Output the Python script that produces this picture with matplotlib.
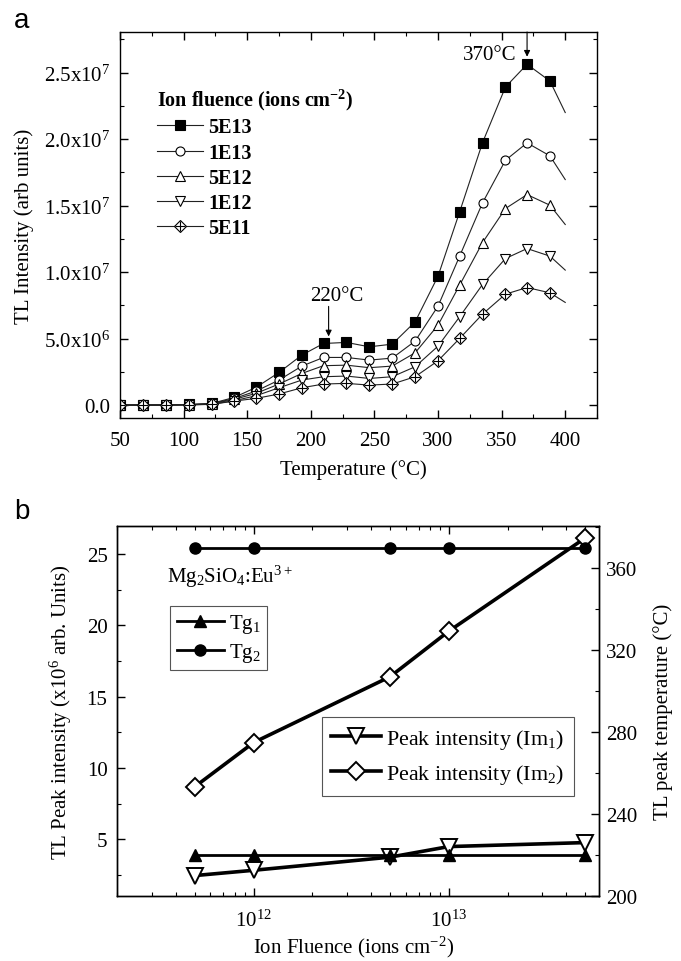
import matplotlib
matplotlib.use('Agg')
import matplotlib.pyplot as plt
from matplotlib.ticker import MultipleLocator, FuncFormatter, NullFormatter, LogLocator
from matplotlib.legend_handler import HandlerTuple

plt.rcParams['font.family'] = ['Liberation Serif', 'DejaVu Serif']
plt.rcParams['mathtext.fontset'] = 'custom'
plt.rcParams['mathtext.rm'] = 'Liberation Serif'
plt.rcParams['mathtext.it'] = 'Liberation Serif:italic'
plt.rcParams['mathtext.bf'] = 'Liberation Serif:bold'

# --- panel a: TL glow curves (intensity in units of 1e6) ---
temps = [50, 68, 86, 104, 122, 140, 157, 175, 193, 210, 228, 246, 264,
         282, 300, 317, 335, 353, 370, 388, 400]
tl_5e13 = [0, 0, 0, 0.05, 0.12, 0.58, 1.33, 2.45, 3.76, 4.63, 4.71, 4.38, 4.58,
           6.26, 9.69, 14.53, 19.74, 23.92, 25.63, 24.37, 22.0]
tl_1e13 = [0, 0, 0, 0.03, 0.10, 0.50, 1.05, 1.88, 2.93, 3.58, 3.58, 3.38, 3.53,
           4.81, 7.44, 11.2, 15.21, 18.41, 19.72, 18.74, 16.96]
tl_5e12 = [0, 0, 0, 0.02, 0.08, 0.43, 0.88, 1.58, 2.38, 2.96, 3.0, 2.81, 2.93,
           3.93, 6.01, 9.02, 12.22, 14.78, 15.83, 15.03, 13.58]
tl_1e12 = [0, 0, 0, 0.02, 0.06, 0.33, 0.70, 1.30, 1.88, 2.13, 2.18, 2.0, 2.13,
           2.88, 4.43, 6.64, 9.07, 11.02, 11.77, 11.2, 10.15]
tl_5e11 = [0, 0, 0, 0.01, 0.05, 0.30, 0.50, 0.83, 1.30, 1.58, 1.63, 1.50, 1.58,
           2.13, 3.33, 5.01, 6.84, 8.34, 8.84, 8.44, 7.72]
fluence_labels = ['5E13', '1E13', '5E12', '1E12', '5E11']

# --- panel b: peak intensity / temperature vs fluence ---
fluence = [5e11, 1e12, 5e12, 1e13, 5e13]
tg1 = [220, 220, 220, 220, 220]
tg2 = [370, 370, 370, 370, 370]
im1 = [2.47, 2.84, 3.76, 4.5, 4.78]
im2 = [8.7, 11.79, 16.4, 19.59, 26.12]

FS = 15

fig = plt.figure(figsize=(6.81, 9.62), dpi=100)

# ================= panel a =================
ax1 = fig.add_axes([0.1762, 0.5641, 0.7005, 0.4016])
scale = 1e6
mk = slice(0, len(temps) - 1)
lc = '#222222'
common = dict(color=lc, lw=0.8, markevery=mk, ms=6.5, mec='k', mew=0.8)
h1, = ax1.plot(temps, [v * scale for v in tl_5e13], marker='s', mfc='k', **common)
h2, = ax1.plot(temps, [v * scale for v in tl_1e13], marker='o', mfc='white', **common)
h3, = ax1.plot(temps, [v * scale for v in tl_5e12], marker='^', mfc='white', **common)
h4, = ax1.plot(temps, [v * scale for v in tl_1e12], marker='v', mfc='white', **common)
h5, = ax1.plot(temps, [v * scale for v in tl_5e11], marker='D', mfc='white',
               color=lc, lw=0.8, markevery=mk, ms=6, mec='k', mew=0.8)
h5b, = ax1.plot(temps[:-1], [v * scale for v in tl_5e11[:-1]], ls='none',
                marker='+', ms=6.5, mec='k', mew=0.8)

ax1.set_xlim(50, 425)
ax1.set_ylim(-1.0e6, 2.806e7)
ax1.xaxis.set_major_locator(MultipleLocator(50))
ax1.xaxis.set_minor_locator(MultipleLocator(25))
ax1.yaxis.set_major_locator(MultipleLocator(5e6))
ax1.yaxis.set_minor_locator(MultipleLocator(2.5e6))


def sci_fmt(v, pos):
    if v == 0:
        return '0.0'
    e = 6 if abs(v) < 1e7 else 7
    return '%.1fx10$^{%d}$' % (v / 10 ** e, e)


ax1.yaxis.set_major_formatter(FuncFormatter(sci_fmt))
ax1.tick_params(which='both', direction='in', top=True, right=True, labelsize=FS)
ax1.tick_params(which='major', length=6, width=1, pad=7)
ax1.tick_params(axis='x', which='major', pad=9)
ax1.tick_params(which='minor', length=3, width=0.8)
for s in ax1.spines.values():
    s.set_linewidth(1.0)

ax1.set_xlabel('Temperature (°C)', fontsize=FS)
ax1.set_ylabel('TL Intensity (arb units)', fontsize=FS)
ax1.xaxis.set_label_coords(0.49, -0.105)
ax1.yaxis.set_label_coords(-0.18, 0.5)

leg1 = ax1.legend([h1, h2, h3, h4, (h5, h5b)], fluence_labels,
                  handler_map={tuple: HandlerTuple(ndivide=1)},
                  title=r'Ion fluence (ions cm$^{\mathbf{-2}}$)',
                  title_fontproperties={'weight': 'bold', 'size': 14.5},
                  prop={'weight': 'bold', 'size': 14.5},
                  loc='upper left', bbox_to_anchor=(0.078, 0.858),
                  frameon=False, borderpad=0, borderaxespad=0,
                  handlelength=2.25, handletextpad=0.3, labelspacing=0.26,
                  alignment='left')

ax1.annotate('', xy=(370, 2.62e7), xytext=(370, 2.806e7),
             arrowprops=dict(arrowstyle='-|>', color='k', lw=0.8,
                             mutation_scale=9, shrinkA=0, shrinkB=0),
             annotation_clip=False)
ax1.text(341, 2.64e7, '370°C', ha='center', va='center', fontsize=FS)
ax1.annotate('', xy=(214, 5.16e6), xytext=(214, 7.42e6),
             arrowprops=dict(arrowstyle='-|>', color='k', lw=0.8,
                             mutation_scale=9, shrinkA=0, shrinkB=0))
ax1.text(220.6, 8.27e6, '220°C', ha='center', va='center', fontsize=FS)

fig.text(0.032, 0.978, 'a', family='Liberation Sans', fontsize=20,
         ha='center', va='center')

# ================= panel b =================
ax3 = fig.add_axes([0.1722, 0.0679, 0.7077, 0.3840])
ax4 = ax3.twinx()

p1, = ax3.plot(fluence, im1, color='k', lw=2.6, marker='v', ms=11,
               mfc='white', mec='k', mew=1.4, zorder=3)
p2, = ax3.plot(fluence, im2, color='k', lw=2.6, marker='D', ms=9,
               mfc='white', mec='k', mew=1.4, zorder=3)
t1, = ax4.plot(fluence, tg1, color='k', lw=2.0, marker='^', ms=8, mfc='k', mec='k')
t2, = ax4.plot(fluence, tg2, color='k', lw=2.0, marker='o', ms=8, mfc='k', mec='k')

ax3.set_xscale('log')
ax3.set_xlim(2.0e11, 5.9e13)
ax3.set_ylim(1.06, 26.94)
ax4.set_ylim(200, 380.4)
ax3.xaxis.set_major_locator(LogLocator(base=10, numticks=10))
ax3.xaxis.set_minor_locator(LogLocator(base=10, subs=range(2, 10), numticks=20))
ax3.xaxis.set_minor_formatter(NullFormatter())
ax3.yaxis.set_major_locator(MultipleLocator(5))
ax3.yaxis.set_minor_locator(MultipleLocator(2.5))
ax4.yaxis.set_major_locator(MultipleLocator(40))
ax4.yaxis.set_minor_locator(MultipleLocator(20))

ax3.tick_params(which='both', direction='in', top=True, right=False, labelsize=FS)
ax3.tick_params(which='major', length=6, width=1, pad=7)
ax3.tick_params(axis='x', which='major', pad=10)
ax3.tick_params(which='minor', length=3, width=0.8)
ax4.tick_params(which='both', direction='in', labelsize=FS)
ax4.tick_params(which='major', length=6, width=1, pad=5)
ax4.tick_params(which='minor', length=3, width=0.8)
for a in (ax3, ax4):
    for s in a.spines.values():
        s.set_linewidth(1.0)

ax3.set_xlabel('Ion Fluence (ions cm$^{-2}$)', fontsize=FS)
ax3.set_ylabel('TL Peak intensity (x10$^{6}$ arb. Units)', fontsize=FS)
ax4.set_ylabel('TL peak temperature (°C)', fontsize=FS, rotation=90)
ax3.xaxis.set_label_coords(0.49, -0.104)
ax3.yaxis.set_label_coords(-0.09, 0.5)
ax4.yaxis.set_label_coords(1.111, 0.5)

ax3.text(0.104, 0.866, 'Mg$_2$SiO$_4$:Eu$^{3+}$', transform=ax3.transAxes,
         ha='left', va='center', fontsize=FS)

legA = ax4.legend([t1, t2], ['Tg$_1$', 'Tg$_2$'], loc='upper left',
                  bbox_to_anchor=(0.110, 0.785), borderaxespad=0, fontsize=FS,
                  fancybox=False, edgecolor='#555555', framealpha=1,
                  borderpad=0.3, handlelength=2.3, handletextpad=0.2,
                  labelspacing=0.3)
legA.get_frame().set_linewidth(0.8)
ax4.add_artist(legA)
legB = ax4.legend([p1, p2], ['Peak intensity (Im$_1$)', 'Peak intensity (Im$_2$)'],
                  loc='upper left', bbox_to_anchor=(0.424, 0.483),
                  borderaxespad=0, fontsize=15.8, fancybox=False,
                  edgecolor='#555555', framealpha=1, borderpad=0.45,
                  handlelength=2.25, handletextpad=0.25, labelspacing=0.5)
legB.get_frame().set_linewidth(0.8)

fig.text(0.032, 0.468, 'b', family='Liberation Sans', fontsize=20,
         ha='center', va='center')

fig.savefig('out.png', dpi=100)
